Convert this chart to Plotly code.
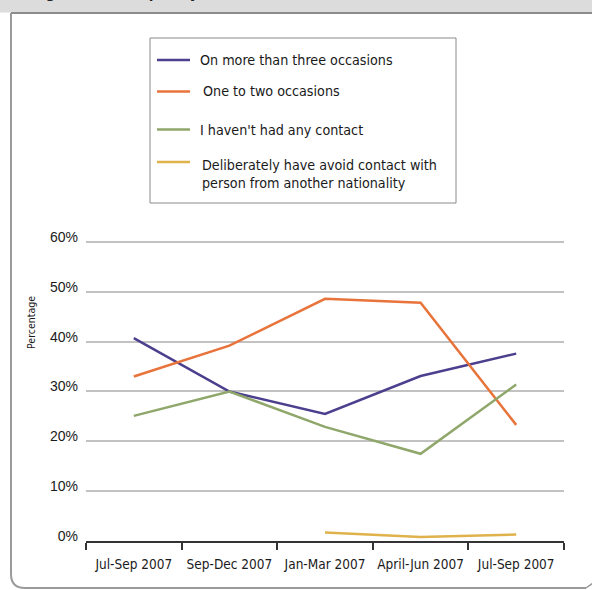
import plotly.graph_objects as go

# ---- data ----
periods = ["Jul-Sep 2007", "Sep-Dec 2007", "Jan-Mar 2007", "April-Jun 2007", "Jul-Sep 2007"]
series_names = [
    "On more than three occasions",
    "One to two occasions",
    "I haven't had any contact",
    "Deliberately have avoid contact with<br>person from another nationality",
]
more_than_three = [40.7, 30.0, 25.5, 33.1, 37.6]
one_to_two = [33.0, 39.2, 48.6, 47.8, 23.3]
no_contact = [25.1, 30.0, 22.9, 17.5, 31.4]
avoided = [None, None, 1.7, 0.8, 1.3]
colors = ["#4b3f8e", "#e8733b", "#8fa76b", "#dfb24b"]
y_ticks = [0, 10, 20, 30, 40, 50, 60]
y_tick_labels = ["0%", "10%", "20%", "30%", "40%", "50%", "60%"]
title_text = "Figure 5.3: Frequency of contact with other nationalities"

FONT = "DejaVu Sans Condensed, Liberation Sans Narrow, sans-serif"
W, H = 592, 590
ML, MR, MT, MB = 86, 28, 237, 49
PW, PH = W - ML - MR, H - MT - MB


def px(x):
    return (x - ML) / PW


def py(y):
    return (H - MB - y) / PH


fig = go.Figure()
xs = list(range(len(periods)))
for name, vals, col in zip(series_names, [more_than_three, one_to_two, no_contact, avoided], colors):
    fig.add_trace(go.Scatter(x=xs, y=vals, mode="lines", name=name,
                             line=dict(color=col, width=2.5), showlegend=False,
                             connectgaps=False))

shapes = []
annotations = []

# outer frame: header band and border
shapes.append(dict(type="rect", xref="paper", yref="paper", x0=px(-5), x1=px(W + 5), y0=py(-5), y1=py(12.5),
                   fillcolor="#dcdcdc", line=dict(width=0), layer="below"))
shapes.append(dict(type="line", xref="paper", yref="paper", x0=px(11), x1=px(W + 5), y0=py(13), y1=py(13),
                   line=dict(color="#8c8c8c", width=2)))
shapes.append(dict(type="path", xref="paper", yref="paper",
                   path=(f"M {px(11)},{py(13)} L {px(11)},{py(574)} "
                         f"Q {px(11)},{py(588)} {px(25)},{py(588)} L {px(586)},{py(588)}"),
                   line=dict(color="#9a9a9a", width=2)))
shapes.append(dict(type="line", xref="paper", yref="paper", x0=px(586), x1=px(593), y0=py(588), y1=py(583),
                   line=dict(color="#9a9a9a", width=1.5)))

annotations.append(dict(xref="paper", yref="paper", x=px(30), y=py(4), xanchor="left", yanchor="bottom",
                        text=f"<b>{title_text}</b>", showarrow=False,
                        font=dict(family=FONT, size=15, color="#222222")))

# legend box
shapes.append(dict(type="rect", xref="paper", yref="paper", x0=px(150), x1=px(456), y0=py(38), y1=py(203),
                   line=dict(color="#8a8a8a", width=1), fillcolor="white"))
leg_rows = [60, 91.5, 129.5, 162]
text_x = [198, 201, 198, 200]
text_y = [60, 91.5, 129.5, 173.5]
for name, col, ly, tx, ty in zip(series_names, colors, leg_rows, text_x, text_y):
    shapes.append(dict(type="line", xref="paper", yref="paper", x0=px(157), x1=px(190), y0=py(ly), y1=py(ly),
                       line=dict(color=col, width=2.5)))
    annotations.append(dict(xref="paper", yref="paper", x=px(tx), y=py(ty), xanchor="left", yanchor="middle",
                            text=name, showarrow=False, align="left",
                            font=dict(family=FONT, size=14.2, color="#1a1a1a")))

# y title
annotations.append(dict(xref="paper", yref="paper", x=px(31), y=py(323), xanchor="center", yanchor="middle",
                        text="Percentage", textangle=-90, showarrow=False,
                        font=dict(family=FONT, size=10.5, color="#1a1a1a")))

fig.update_layout(
    width=W, height=H,
    margin=dict(l=ML, r=MR, t=MT, b=MB, autoexpand=False),
    paper_bgcolor="white", plot_bgcolor="white",
    shapes=shapes, annotations=annotations,
    xaxis=dict(range=[-0.5, 4.5], tickvals=xs, ticktext=periods, ticks="", showgrid=False,
               zeroline=False, showline=True, linecolor="#333333", linewidth=1.5,
               tickangle=0, automargin=False,
               tickfont=dict(family=FONT, size=13.5, color="#1a1a1a"), ticklabelstandoff=10,
               minor=dict(tick0=-0.5, dtick=1, ticks="outside", ticklen=7, tickcolor="#333333",
                          tickwidth=1.5, showgrid=False),
               fixedrange=True),
    yaxis=dict(range=[0, 61], tickvals=y_ticks, ticktext=y_tick_labels, showgrid=True,
               gridcolor="#c2c2c2", gridwidth=1.5, zeroline=False, ticks="", automargin=False,
               ticklabelstandoff=7, ticklabelshift=-5,
               tickfont=dict(family="Liberation Sans, Arial, sans-serif", size=14, color="#1a1a1a"),
               fixedrange=True),
)

fig.write_html("out.html", config={"displayModeBar": False},
               post_script="document.body.style.margin='0';document.body.style.overflow='hidden';"
                           "document.documentElement.style.overflow='hidden';")
